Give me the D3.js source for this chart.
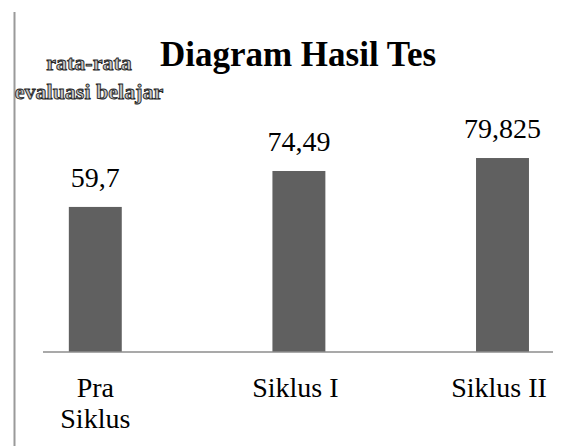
<!DOCTYPE html>
<html>
<head>
<meta charset="utf-8">
<script src="https://cdn.jsdelivr.net/npm/d3@7"></script>
<style>
html,body{margin:0;padding:0;background:#fff;}
svg{display:block;}
</style>
</head>
<body>
<svg id="chart" width="571" height="446"></svg>
<script>
const categories = ["Pra Siklus", "Siklus I", "Siklus II"];
const categoryLines = [["Pra", "Siklus"], ["Siklus I"], ["Siklus II"]];
const values = [59.7, 74.49, 79.825];
const valueLabels = ["59,7", "74,49", "79,825"];
const title = "Diagram Hasil Tes";
const yTitleLines = ["rata-rata", "evaluasi belajar"];

const svg = d3.select("#chart");
const serif = "'Liberation Serif','Times New Roman',Times,serif";

const x = d3.scaleBand().domain(categories).range([-6.5, 604.3]).paddingInner(0.74).paddingOuter(0.37);
const y = d3.scaleLinear().domain([0, 100]).range([352, 109]);

// left frame line
svg.append("line").attr("x1", 14.5).attr("x2", 14.5).attr("y1", 12).attr("y2", 446)
  .attr("stroke", "#9a9a9a").attr("stroke-width", 2);

// bars
svg.selectAll("rect.bar").data(values).enter().append("rect")
  .attr("class", "bar")
  .attr("x", (d, i) => x(categories[i]))
  .attr("width", x.bandwidth())
  .attr("y", d => y(d))
  .attr("height", d => y(0) - y(d))
  .attr("fill", "#606060");

// baseline axis
svg.append("line").attr("x1", 43).attr("x2", 553).attr("y1", y(0)).attr("y2", y(0))
  .attr("stroke", "#8c8c8c").attr("stroke-width", 1.5);

// value labels
svg.selectAll("text.val").data(values).enter().append("text")
  .attr("class", "val")
  .attr("x", (d, i) => x(categories[i]) + x.bandwidth() / 2)
  .attr("y", d => y(d) - 20)
  .attr("text-anchor", "middle")
  .attr("font-family", serif).attr("font-size", 28).attr("fill", "#000")
  .text((d, i) => valueLabels[i]);

// category labels
categories.forEach((c, i) => {
  const cx = x(c) + x.bandwidth() / 2 - (i === 0 ? 0 : 3.5);
  const t = svg.append("text")
    .attr("x", cx)
    .attr("y", 397)
    .attr("text-anchor", "middle")
    .attr("font-family", serif).attr("font-size", 28).attr("fill", "#000");
  categoryLines[i].forEach((ln, j) => {
    t.append("tspan").attr("x", cx).attr("dy", j === 0 ? 0 : 31).text(ln);
  });
});

// title
svg.append("text").attr("x", 298).attr("y", 66).attr("text-anchor", "middle")
  .attr("font-family", serif).attr("font-size", 35).attr("font-weight", "bold")
  .attr("fill", "#000").text(title);

// y-axis title (outlined)
yTitleLines.forEach((ln, j) => {
  svg.append("text").attr("x", 89).attr("y", 70 + j * 29).attr("text-anchor", "middle")
    .attr("font-family", serif).attr("font-size", 22).attr("font-weight", "bold")
    .attr("fill", "#c4c4c4").attr("stroke", "#262626").attr("stroke-width", 0.9)
    .text(ln);
});
</script>
</body>
</html>
